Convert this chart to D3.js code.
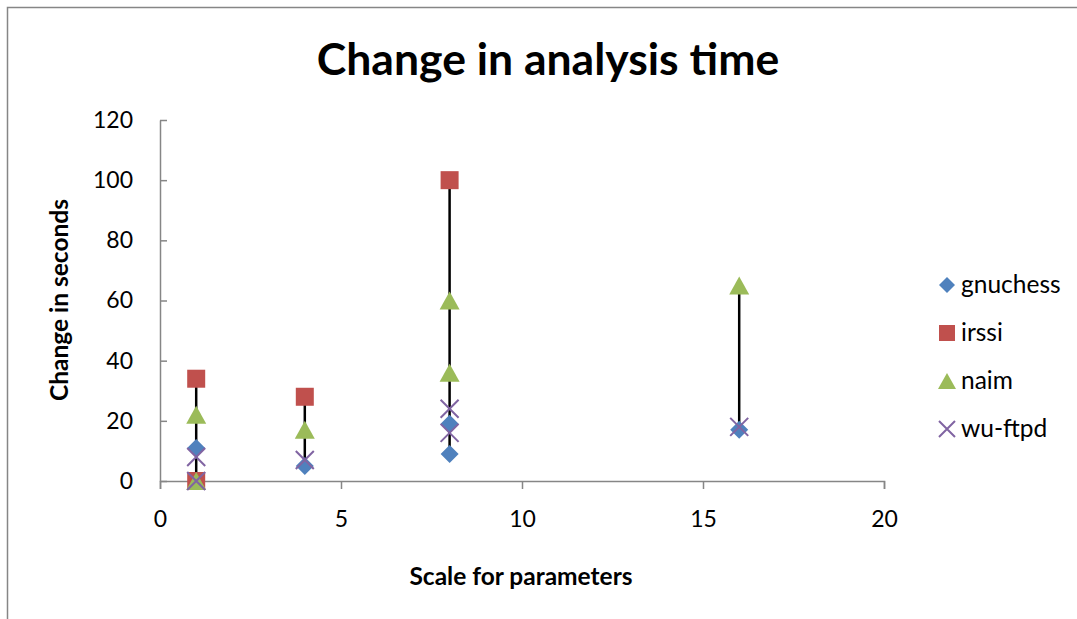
<!DOCTYPE html>
<html>
<head>
<meta charset="utf-8">
<script src="https://cdn.jsdelivr.net/npm/d3@7"></script>
<style>
  body { margin: 0; background: #fff; }
  text { font-family: Lato, "Open Sans", sans-serif; }
</style>
</head>
<body>
<div id="chart"></div>
<script>
// Data
const seriesNames = ['gnuchess', 'irssi', 'naim', 'wu-ftpd']
const gnuchess = [[1, 11], [4, 5], [8, 19], [8, 9], [16, 17]]
const irssi = [[1, 34], [1, 0], [4, 28], [8, 100]]
const naim = [[1, 22], [1, 0], [4, 17], [8, 60], [8, 36], [16, 65]]
const wuftpd = [[1, 8], [1, 0], [4, 7], [8, 24], [8, 16], [16, 18]]
const xTicks = [0, 5, 10, 15, 20]
const yTicks = [0, 20, 40, 60, 80, 100, 120]

const series = [
  { name: seriesNames[0], values: gnuchess, color: '#4f81bd', shape: 'diamond' },
  { name: seriesNames[1], values: irssi, color: '#c0504d', shape: 'square' },
  { name: seriesNames[2], values: naim, color: '#9bbb59', shape: 'triangle' },
  { name: seriesNames[3], values: wuftpd, color: '#8064a2', shape: 'cross' },
]

// Dimensions
const width = 1077
const height = 619
const margins = { left: 160, right: 193, top: 120, bottom: 138 }
const ctrWidth = width - margins.left - margins.right
const ctrHeight = height - margins.top - margins.bottom
const axisColor = '#868686'

const svg = d3.select('#chart')
  .append('svg')
  .attr('width', width)
  .attr('height', height)

// chart area border (cut off at right and bottom)
svg.append('rect')
  .attr('x', 7.5)
  .attr('y', 7.5)
  .attr('width', 1200)
  .attr('height', 800)
  .attr('fill', 'none')
  .attr('stroke', axisColor)
  .attr('stroke-width', 1.5)

const ctr = svg.append('g')
  .attr('transform', `translate(${margins.left}, ${margins.top})`)

// Scales
const xScale = d3.scaleLinear().domain([0, 20]).range([0, ctrWidth])
const yScale = d3.scaleLinear().domain([0, 120]).range([ctrHeight, 0])

// Axes
const xAxis = d3.axisBottom(xScale).tickValues(xTicks).tickSize(8).tickPadding(22)
const xAxisGroup = ctr.append('g')
  .attr('transform', `translate(0, ${ctrHeight})`)
  .call(xAxis)
xAxisGroup.select('.domain').attr('stroke', axisColor).attr('stroke-width', 1.5)
xAxisGroup.selectAll('.tick line').attr('stroke', axisColor).attr('stroke-width', 1.5)
xAxisGroup.selectAll('.tick text')
  .attr('fill', '#000')
  .style('font-size', '23px')

// y ticks point into the plot
const yAxis = d3.axisLeft(yScale).tickValues(yTicks).tickSizeInner(-7).tickSizeOuter(0).tickPadding(27)
const yAxisGroup = ctr.append('g').call(yAxis)
yAxisGroup.select('.domain').attr('stroke', axisColor).attr('stroke-width', 1.5)
yAxisGroup.selectAll('.tick line').attr('stroke', axisColor).attr('stroke-width', 1.5)
yAxisGroup.selectAll('.tick text')
  .attr('fill', '#000')
  .style('font-size', '23px')

// High-low lines per x
const allPoints = series.flatMap(s => s.values)
const ranges = d3.rollups(allPoints, v => d3.extent(v, d => d[1]), d => d[0])
ctr.append('g')
  .selectAll('line')
  .data(ranges)
  .join('line')
  .attr('x1', d => xScale(d[0]))
  .attr('x2', d => xScale(d[0]))
  .attr('y1', d => yScale(d[1][0]))
  .attr('y2', d => yScale(d[1][1]))
  .attr('stroke', '#000')
  .attr('stroke-width', 2.5)

// Markers
function drawMarker(g, shape, color, size) {
  const h = size / 2
  if (shape === 'diamond') {
    g.append('path')
      .attr('d', `M0,${-h}L${h},0L0,${h}L${-h},0Z`)
      .attr('fill', color)
  } else if (shape === 'square') {
    g.append('rect')
      .attr('x', -h).attr('y', -h)
      .attr('width', size).attr('height', size)
      .attr('fill', color)
  } else if (shape === 'triangle') {
    g.append('path')
      .attr('d', `M0,${-h}L${h + 1},${h}L${-h - 1},${h}Z`)
      .attr('fill', color)
  } else {
    g.append('path')
      .attr('d', `M${-h},${-h}L${h},${h}M${-h},${h}L${h},${-h}`)
      .attr('stroke', color)
      .attr('stroke-width', 2)
      .attr('fill', 'none')
  }
}

series.forEach(s => {
  ctr.append('g')
    .selectAll('g')
    .data(s.values)
    .join('g')
    .attr('transform', d => `translate(${xScale(d[0])}, ${yScale(d[1])})`)
    .each(function () { drawMarker(d3.select(this), s.shape, s.color, 18) })
})

// Title
svg.append('text')
  .attr('x', 548)
  .attr('y', 75)
  .attr('text-anchor', 'middle')
  .style('font-size', '44.5px')
  .style('font-weight', 'bold')
  .text('Change in analysis time')

// Axis titles
svg.append('text')
  .attr('transform', 'translate(68, 300) rotate(-90)')
  .attr('text-anchor', 'middle')
  .style('font-size', '24.5px')
  .style('font-weight', 'bold')
  .text('Change in seconds')

svg.append('text')
  .attr('x', 521)
  .attr('y', 585)
  .attr('text-anchor', 'middle')
  .style('font-size', '24.5px')
  .style('font-weight', 'bold')
  .text('Scale for parameters')

// Legend
const legend = svg.append('g')
  .selectAll('g')
  .data(series)
  .join('g')
  .attr('transform', (d, i) => `translate(947, ${285 + i * 48})`)

legend.each(function (d) { drawMarker(d3.select(this), d.shape, d.color, 16) })
legend.append('text')
  .attr('x', 14)
  .attr('y', 8)
  .style('font-size', '24.5px')
  .text(d => d.name)
</script>
</body>
</html>
